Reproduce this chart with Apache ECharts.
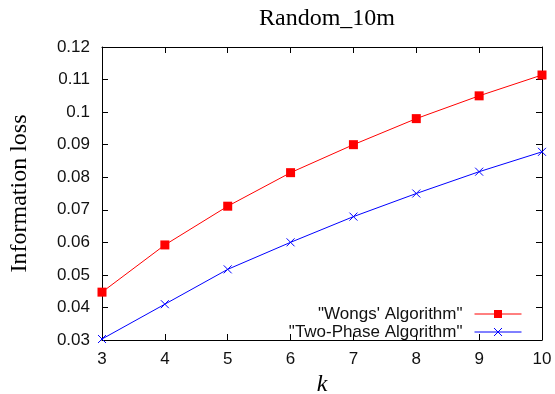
<!DOCTYPE html>
<html>
<head>
<meta charset="utf-8">
<script src="https://cdn.jsdelivr.net/npm/echarts@6/dist/echarts.min.js"></script>
<style>
html, body { margin: 0; padding: 0; background: #fff; }
#chart { width: 555px; height: 394px; }
</style>
</head>
<body>
<div id="chart"></div>
<script>
var kValues = [3, 4, 5, 6, 7, 8, 9, 10];
var wongs = [0.0447, 0.0592, 0.0711, 0.0814, 0.0900, 0.0980, 0.1050, 0.1114];
var twoPhase = [0.0303, 0.0410, 0.0517, 0.0600, 0.0679, 0.0750, 0.0817, 0.0878];

function pairs(ys) {
	return kValues.map(function(k, i) { return [k, ys[i]]; });
}

var labelFont = { fontFamily: 'Liberation Sans', fontSize: 17, color: '#111' };
var tickStyle = { show: true, inside: true, length: 6, lineStyle: { color: '#000', width: 1 } };
var lineAxis = { show: true, onZero: false, lineStyle: { color: '#000', width: 1 } };

echarts.init(document.getElementById('chart')).setOption({
	animation: false,
	title: {
		text: 'Random_10m',
		left: 322,
		textAlign: 'center',
		top: 2,
		textStyle: { fontFamily: 'Liberation Serif', fontSize: 24, fontWeight: 'normal', color: '#000' }
	},
	grid: { left: 102, right: 13, top: 47, bottom: 54, outerBoundsMode: 'none' },
	legend: {
		orient: 'vertical',
		right: 28,
		bottom: 48,
		align: 'right',
		itemWidth: 47,
		itemHeight: 10,
		itemGap: 0,
		lineStyle: { width: 1 },
		itemStyle: { borderWidth: 1 },
		textStyle: { fontFamily: 'Liberation Sans', fontSize: 17, lineHeight: 18, color: '#111', padding: [0, 7, 0, 0] },
		data: ['"Wongs\' Algorithm"', '"Two-Phase Algorithm"']
	},
	xAxis: [{
		type: 'value',
		min: 3, max: 10, interval: 1,
		name: 'k',
		nameLocation: 'middle',
		nameGap: 27,
		nameTextStyle: { fontFamily: 'Liberation Serif', fontSize: 24, fontStyle: 'italic', color: '#000' },
		axisLine: lineAxis,
		axisTick: tickStyle,
		axisLabel: Object.assign({ margin: 11 }, labelFont),
		splitLine: { show: false }
	}, {
		type: 'value',
		position: 'top',
		min: 3, max: 10, interval: 1,
		axisLine: lineAxis,
		axisTick: tickStyle,
		axisLabel: { show: false },
		splitLine: { show: false }
	}],
	yAxis: [{
		type: 'value',
		min: 0.03, max: 0.12, interval: 0.01,
		name: 'Information loss',
		nameLocation: 'middle',
		nameGap: 70,
		nameTextStyle: { fontFamily: 'Liberation Serif', fontSize: 24, color: '#000' },
		axisLine: lineAxis,
		axisTick: tickStyle,
		axisLabel: Object.assign({
			margin: 12,
			formatter: function(v) { return String(+v.toFixed(2)); }
		}, labelFont),
		splitLine: { show: false }
	}, {
		type: 'value',
		position: 'right',
		min: 0.03, max: 0.12, interval: 0.01,
		axisLine: lineAxis,
		axisTick: tickStyle,
		axisLabel: { show: false },
		splitLine: { show: false }
	}],
	series: [{
		name: '"Wongs\' Algorithm"',
		type: 'line',
		data: pairs(wongs),
		symbol: 'rect',
		symbolSize: 9,
		lineStyle: { color: '#ff0000', width: 1 },
		itemStyle: { color: '#ff0000' }
	}, {
		name: '"Two-Phase Algorithm"',
		type: 'line',
		data: pairs(twoPhase),
		symbol: 'path://M0,0L10,10M10,0L0,10',
		symbolSize: 8,
		lineStyle: { color: '#0000ff', width: 1 },
		itemStyle: { color: 'rgba(0,0,0,0)', borderColor: '#0000ff', borderWidth: 1 }
	}]
});
</script>
</body>
</html>
